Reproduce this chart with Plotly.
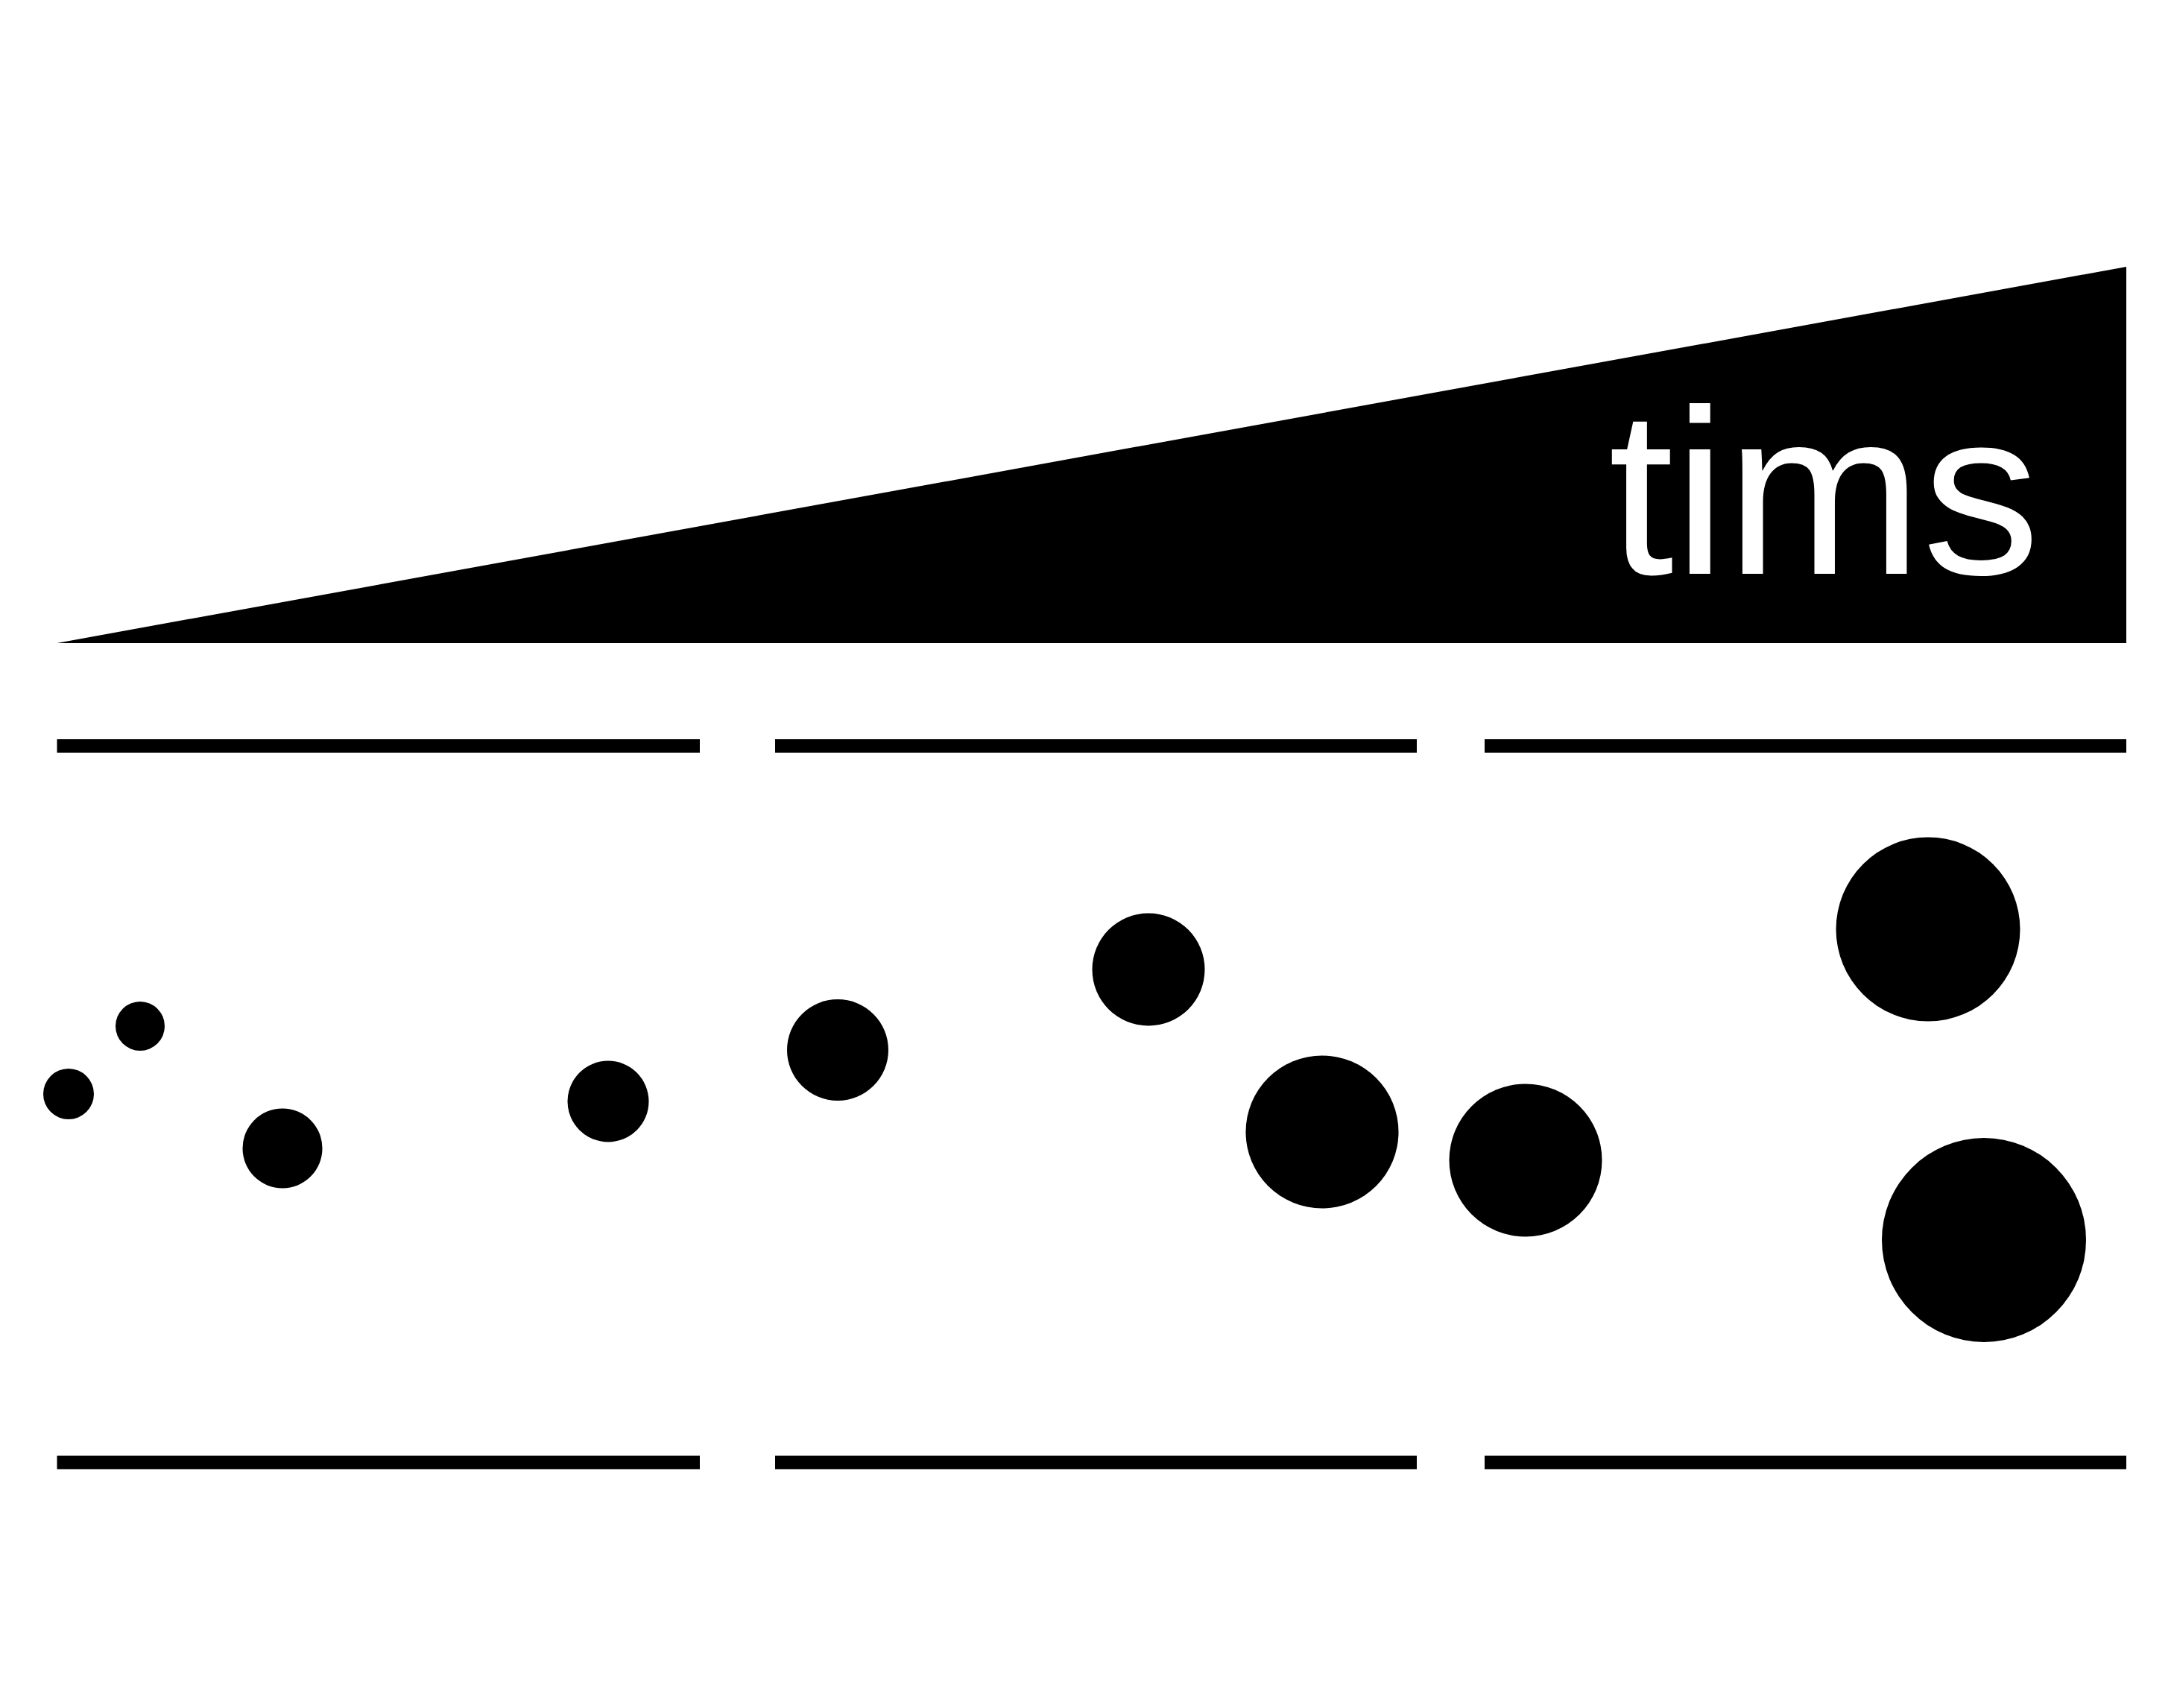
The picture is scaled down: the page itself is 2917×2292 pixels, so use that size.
import plotly.graph_objects as go

W, H = 2917, 2292

# ---- data (chart units = canvas pixels) ----
bubble_x = [92, 188, 379, 816, 1124, 1541, 1774, 2047, 2587, 2662]
bubble_y = [1468, 1377, 1541, 1478, 1409, 1301, 1519, 1557, 1247, 1664]
bubble_d = [68, 66, 107, 109, 136, 151, 205, 205, 247, 274]

wedge_x = [76.5, 2853, 2853, 76.5]
wedge_y = [863, 358, 863, 863]

seg_starts = [76.5, 1040, 1992]
seg_ends = [939, 1901, 2853]
top_rule_y = 1001
bottom_rule_y = 1962.5

label_text = "tims"
label_x = 2447
label_y = 660

fig = go.Figure()

# wedge
fig.add_trace(go.Scatter(
    x=wedge_x, y=wedge_y, mode="lines", fill="toself",
    fillcolor="black", line=dict(width=0, color="black"),
    hoverinfo="skip", showlegend=False))

# rules (top and bottom, three segments each)
for ry in (top_rule_y, bottom_rule_y):
    xs, ys = [], []
    for a, b in zip(seg_starts, seg_ends):
        xs += [a, b, None]
        ys += [ry, ry, None]
    fig.add_trace(go.Scatter(
        x=xs, y=ys, mode="lines",
        line=dict(color="black", width=18),
        hoverinfo="skip", showlegend=False))

# bubbles
fig.add_trace(go.Scatter(
    x=bubble_x, y=bubble_y, mode="markers",
    marker=dict(size=bubble_d, sizemode="diameter", color="black",
                opacity=1, line=dict(width=0)),
    opacity=1,
    showlegend=False))

fig.add_annotation(
    x=label_x, y=label_y, xref="x", yref="y",
    text=label_text, showarrow=False,
    xanchor="center", yanchor="middle",
    font=dict(family="Liberation Sans, Arial, sans-serif", size=316,
              color="white"),
    borderpad=0)

fig.update_layout(
    width=W, height=H,
    margin=dict(l=0, r=0, t=0, b=0),
    paper_bgcolor="white", plot_bgcolor="white",
    xaxis=dict(range=[0, W], visible=False, fixedrange=True),
    yaxis=dict(range=[H, 0], visible=False, fixedrange=True),
)

fig.write_html("out.html", config={"displayModeBar": False})
